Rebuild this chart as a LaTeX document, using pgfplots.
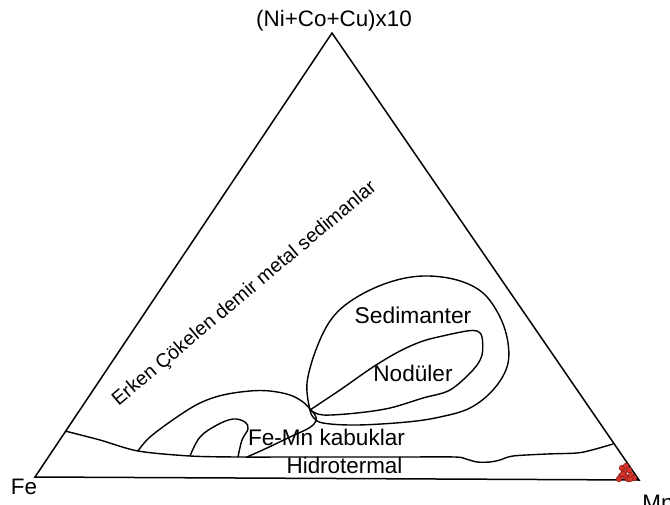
\documentclass[border=0pt]{standalone}
\usepackage{pgfplots}
\pgfplotsset{compat=1.18}
\usepackage{fontspec}
\setmainfont{Liberation Sans}
\definecolor{markred}{RGB}{214,52,42}
\definecolor{markedge}{RGB}{150,30,25}
\begin{document}
\begin{tikzpicture}
\begin{axis}[name=ax, scale only axis, width=335pt, height=252pt,
  xmin=0, xmax=670, ymin=0, ymax=504, y dir=reverse, hide axis, clip=false]
% triangle
\addplot[black, line width=0.75pt, line join=miter] coordinates {(35,477)(332,33)(639,480)} -- cycle;
% lower boundary
\addplot[black, line width=0.7pt, smooth, tension=0.5] coordinates {
(65,431)(100,440)(138,451)(190,456)(238,457)(300,457)(400,457)(455,457)(466,459)(477,462)(490,462)(500,460)(513,456)(547,454)(577,453)(592,450)(613,444)};
% big left loop
\addplot[black, line width=0.7pt, smooth, tension=0.6] coordinates {
(138,451)(150,437)(177,417)(200,403)(223,395)(250,391)(270,391)(290,395)(303,402)(310,409)};
% small loop
\addplot[black, line width=0.7pt, smooth, tension=0.6] coordinates {
(190,456)(200,437)(217,425)(233,419)(245,422)(248,429)(242,440)(238,457)};
% Fe-Mn upper-right line
\addplot[black, line width=0.7pt, smooth, tension=0.6] coordinates {
(310,409)(315,415)(316,421)(309,428)(290,437)(267,448)(247,457)};
% Sedimanter loop
\addplot[black, line width=0.7pt, smooth, tension=0.6] coordinates {
(310,410)(307,383)(317,347)(333,317)(357,297)(390,282)(423,276)(457,280)(483,293)(500,317)(508,343)(507,367)(493,390)(470,408)(440,417)(407,422)(357,425)(323,423)(313,417)(310,410)};
% Noduler loop
\addplot[black, line width=0.7pt, smooth, tension=0.55] coordinates {
(310,410)(340,390)(373,367)(400,351)(423,341)(447,335)(467,331)(477,331)(482,337)(482,355)(473,370)(450,390)(423,398)(390,408)(357,413)(323,415)(310,410)};
% red samples
\addplot[only marks, mark=*, mark size=1.4pt, color=markedge, fill=markred, line width=0.3pt] coordinates {
(622,468)(626,466)(624,472)(629,470)(621,476)(626,477)(631,475)(634,478)(628,479)(619,479)(623,474)(630,479)};
% labels
\node[anchor=base, font=\fontsize{11.2}{13}\selectfont] at (axis cs:334,26) {(Ni+Co+Cu)x10};
\node[anchor=base, font=\fontsize{11.2}{13}\selectfont] at (axis cs:24,494.5) {Fe};
\node[anchor=base west, inner sep=0pt, font=\fontsize{11.2}{13}\selectfont] at (axis cs:642,510) {Mn};
\node[anchor=base, font=\fontsize{11.4}{13}\selectfont] at (axis cs:413,323) {Sedimanter};
\node[anchor=base, font=\fontsize{11.3}{13}\selectfont] at (axis cs:413,381) {Nodüler};
\node[anchor=base, font=\fontsize{11.3}{13}\selectfont] at (axis cs:326.5,445) {Fe-Mn kabuklar};
\node[anchor=base, font=\fontsize{11.2}{13}\selectfont] at (axis cs:344.5,473) {Hidrotermal};
\node[anchor=base, rotate=40, font=\fontsize{9.8}{12}\selectfont] at (axis cs:248,298) {Erken Çökelen demir metal sedimanlar};
\end{axis}
\pgfresetboundingbox
\path[use as bounding box] (ax.south west) rectangle (ax.north east);
\end{tikzpicture}
\end{document}
